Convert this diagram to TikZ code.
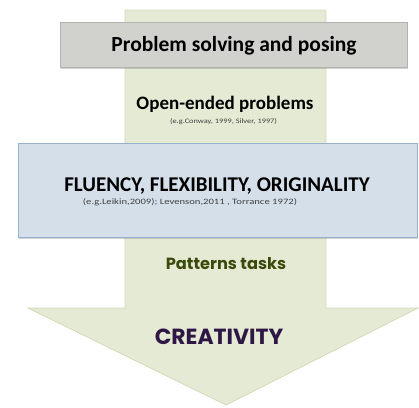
\documentclass[tikz,border=0pt]{standalone}
\usepackage{fontspec}
\setmainfont{Carlito}
\newfontfamily\geofont{Poppins}
\usetikzlibrary{shadows}
\definecolor{arrowfill}{HTML}{E4EAD3}
\definecolor{arrowline}{HTML}{D2DBB8}
\definecolor{grayfill}{HTML}{D1D2CD}
\definecolor{blueline}{HTML}{97B0CC}
\definecolor{bluefill}{HTML}{D4DFEA}
\definecolor{olivetext}{HTML}{3A4A0C}
\definecolor{purpletext}{HTML}{2E1744}
\definecolor{reftext}{HTML}{404040}
\begin{document}
\begin{tikzpicture}[x=1pt,y=-1pt,
  band/.style={drop shadow={shadow xshift=1pt,shadow yshift=-2pt,opacity=0.35}},
  label/.style={inner sep=0pt,anchor=center}]
\useasboundingbox (0,0) rectangle (419,407);
% big downward arrow
\draw[draw=arrowline,fill=arrowfill,line width=0.8pt]
  (125,10) -- (326,10) -- (326,48) -- (326,308) -- (418,308) -- (226,405)
  -- (28,308) -- (125,308) -- cycle;
% top band
\node[band,draw=grayfill!85!black,line width=0.3pt,fill=grayfill,minimum width=347pt,minimum height=45pt,inner sep=0pt]
  (solving) at (233.5,44.5) {};
\node[label] (solvingtext) at (234,46) {\fontsize{21.5}{24}\selectfont\bfseries Problem solving and posing};
% open-ended problems
\node[label] (openended) at (225,104) {\fontsize{19}{22}\selectfont\bfseries Open-ended problems};
\node[label,text=reftext] (openref) at (223.5,122) {\resizebox{107pt}{5pt}{(e.g.Conway, 1999, Silver, 1997)}};
% middle band
\node[band,draw=blueline,line width=0.8pt,fill=bluefill,minimum width=399pt,minimum height=94pt,inner sep=0pt]
  (fluency) at (217.5,190) {};
\node[label] (fluencytext) at (217,186) {\fontsize{21}{24}\selectfont\bfseries FLUENCY, FLEXIBILITY, ORIGINALITY};
\node[label,text=reftext] (fluencyref) at (190,202.5) {\resizebox{214pt}{6pt}{(e.g.Leikin,2009); Levenson,2011 , Torrance 1972)}};
% patterns tasks
\node[label,text=olivetext] (patterns) at (226,264) {\geofont\fontsize{16.2}{19}\selectfont\bfseries Patterns tasks};
% creativity
\node[label,text=purpletext] (creativity) at (219,337) {\geofont\fontsize{21.9}{25}\selectfont\bfseries CREATIVITY};
\end{tikzpicture}
\end{document}
